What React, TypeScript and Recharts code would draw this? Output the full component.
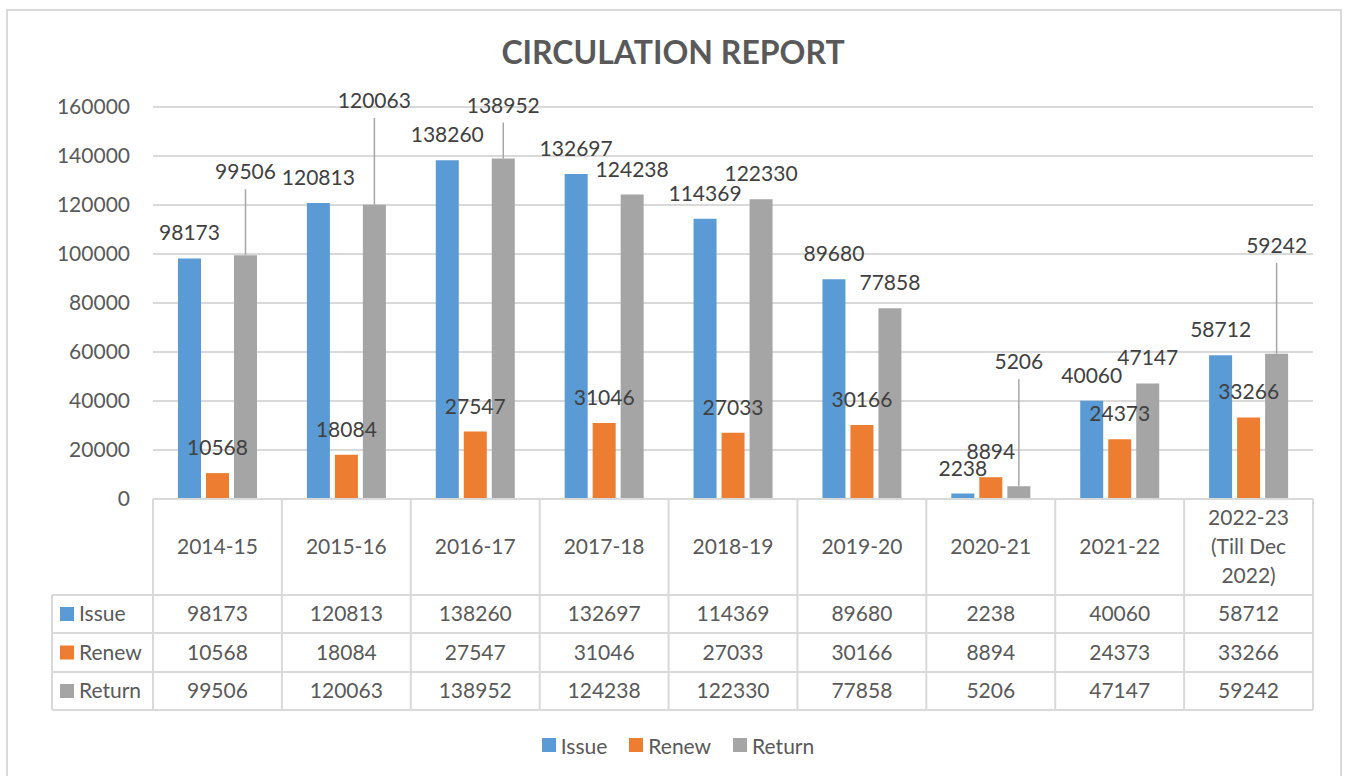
import React from 'react';
import { BarChart, Bar, XAxis, YAxis, CartesianGrid, Legend, LabelList } from 'recharts';

// values
const years = ['2014-15', '2015-16', '2016-17', '2017-18', '2018-19', '2019-20', '2020-21', '2021-22', '2022-23 (Till Dec 2022)'];
const issue = [98173, 120813, 138260, 132697, 114369, 89680, 2238, 40060, 58712];
const renew = [10568, 18084, 27547, 31046, 27033, 30166, 8894, 24373, 33266];
const returned = [99506, 120063, 138952, 124238, 122330, 77858, 5206, 47147, 59242];
const yTicks = [0, 20000, 40000, 60000, 80000, 100000, 120000, 140000, 160000];

// layout (px)
const W = 1346;
const H = 776;
const PLOT_LEFT = 153;
const PLOT_RIGHT = 1313;
const PLOT_BOTTOM = 499;
const TABLE_ROWS = [499, 595, 633, 672, 710];
const KEY_LEFT = 52;
const LINE = '#D9D9D9';
const TEXT = '#595959';
const LABEL = '#404040';
const FONT = 21;

// extra lift for the Return labels that Excel pushed up with leader lines
const returnLift = [83, 104, 53, 0, 0, 0, 124, 0, 108];

const series = [
  { key: 'issue', name: 'Issue', color: '#5B9BD5', values: issue },
  { key: 'renew', name: 'Renew', color: '#ED7D31', values: renew },
  { key: 'returned', name: 'Return', color: '#A5A5A5', values: returned },
];

const data = years.map((year, i) => ({
  year,
  issue: issue[i],
  renew: renew[i],
  returned: returned[i],
}));

function wrap(label: string, max = 9) {
  const lines: string[] = [];
  let cur = '';
  label.split(' ').forEach((w) => {
    if (cur && (cur + ' ' + w).length > max) {
      lines.push(cur);
      cur = w;
    } else {
      cur = cur ? cur + ' ' + w : w;
    }
  });
  if (cur) lines.push(cur);
  return lines;
}

// data table drawn under each category through the x axis ticks
function TableTick(props: any) {
  const { x, payload, index } = props;
  const colW = (PLOT_RIGHT - PLOT_LEFT) / years.length;
  const left = x - colW / 2;
  const right = x + colW / 2;
  const lines = wrap(payload.value);
  const headMid = (TABLE_ROWS[0] + TABLE_ROWS[1]) / 2;
  const lh = 29;
  return (
    <g>
      {TABLE_ROWS.map((ry) => (
        <line key={ry} x1={left} x2={right} y1={ry} y2={ry} stroke={LINE} strokeWidth={2} />
      ))}
      <line x1={left} x2={left} y1={TABLE_ROWS[0]} y2={TABLE_ROWS[4]} stroke={LINE} strokeWidth={2} />
      {index === years.length - 1 && (
        <line x1={right} x2={right} y1={TABLE_ROWS[0]} y2={TABLE_ROWS[4]} stroke={LINE} strokeWidth={2} />
      )}
      {lines.map((t, i) => (
        <text
          key={i}
          x={x}
          y={headMid + (i - (lines.length - 1) / 2) * lh + 7}
          textAnchor="middle"
          fill={TEXT}
          fontSize={FONT}
        >
          {t}
        </text>
      ))}
      {series.map((s, r) => (
        <text
          key={s.key}
          x={x}
          y={(TABLE_ROWS[r + 1] + TABLE_ROWS[r + 2]) / 2 + 7}
          textAnchor="middle"
          fill={TEXT}
          fontSize={FONT}
        >
          {s.values[index]}
        </text>
      ))}
      {index === 0 && (
        <g>
          {TABLE_ROWS.slice(1).map((ry) => (
            <line key={ry} x1={KEY_LEFT} x2={left} y1={ry} y2={ry} stroke={LINE} strokeWidth={2} />
          ))}
          <line x1={KEY_LEFT} x2={KEY_LEFT} y1={TABLE_ROWS[1]} y2={TABLE_ROWS[4]} stroke={LINE} strokeWidth={2} />
          {series.map((s, r) => {
            const mid = (TABLE_ROWS[r + 1] + TABLE_ROWS[r + 2]) / 2;
            return (
              <g key={s.key}>
                <rect x={KEY_LEFT + 8} y={mid - 7} width={14} height={14} fill={s.color} />
                <text x={KEY_LEFT + 27} y={mid + 7} fill={TEXT} fontSize={FONT}>
                  {s.name}
                </text>
              </g>
            );
          })}
        </g>
      )}
    </g>
  );
}

function makeLabel(lift?: number[]) {
  return (props: any) => {
    const { x, y, width, value, index } = props;
    const cx = x + width / 2;
    const up = lift && lift[index] ? lift[index] : 25;
    const cy = y - up;
    return (
      <g>
        {lift && lift[index] ? (
          <line x1={cx} x2={cx} y1={cy + 17} y2={y} stroke="#A6A6A6" strokeWidth={1.5} />
        ) : null}
        <text x={cx} y={cy + 7} textAnchor="middle" fill={LABEL} fontSize={FONT}>
          {value}
        </text>
      </g>
    );
  };
}

function LegendBox() {
  return (
    <div style={{ display: 'flex', justifyContent: 'center', height: 24, alignItems: 'center', paddingLeft: 10 }}>
      {series.map((s) => (
        <div key={s.key} style={{ display: 'flex', alignItems: 'center', margin: '0 11px' }}>
          <span style={{ width: 14, height: 14, background: s.color, display: 'inline-block', marginRight: 5 }} />
          <span style={{ color: TEXT, fontSize: FONT }}>{s.name}</span>
        </div>
      ))}
    </div>
  );
}

export default function App() {
  return (
    <div
      style={{
        position: 'absolute',
        left: 0,
        top: 0,
        width: W,
        height: H,
        background: '#fff',
        fontFamily: 'Lato, "Open Sans", sans-serif',
        overflow: 'hidden',
      }}
    >
      <div
        style={{
          position: 'absolute',
          left: 6,
          top: 9,
          width: 1336,
          height: 800,
          border: `2px solid ${LINE}`,
          boxSizing: 'border-box',
        }}
      />
      <div
        style={{
          position: 'absolute',
          left: 0,
          width: W,
          top: 32,
          textAlign: 'center',
          fontSize: 32,
          fontWeight: 700,
          color: TEXT,
          lineHeight: '40px',
        }}
      >
        CIRCULATION REPORT
      </div>
      <div style={{ position: 'absolute', left: 0, top: 0 }}>
        <BarChart
          width={W}
          height={H}
          data={data}
          margin={{ top: 107, right: W - PLOT_RIGHT, bottom: 19, left: PLOT_LEFT - 100 }}
          barSize={23}
          barGap={5}
        >
          <CartesianGrid vertical={false} stroke={LINE} strokeWidth={2} />
          <XAxis
            dataKey="year"
            height={H - 19 - 24 - PLOT_BOTTOM}
            axisLine={false}
            tickLine={false}
            interval={0}
            tick={<TableTick />}
          />
          <YAxis
            width={100}
            domain={[0, 160000]}
            ticks={yTicks}
            axisLine={false}
            tickLine={false}
            tickSize={6}
            tickMargin={17}
            tick={{ fill: TEXT, fontSize: FONT }}
          />
          <Legend verticalAlign="bottom" wrapperStyle={{ left: 0, width: W }} content={<LegendBox />} />
          <Bar dataKey="issue" name="Issue" fill="#5B9BD5" isAnimationActive={false}>
            <LabelList dataKey="issue" content={makeLabel()} />
          </Bar>
          <Bar dataKey="renew" name="Renew" fill="#ED7D31" isAnimationActive={false}>
            <LabelList dataKey="renew" content={makeLabel()} />
          </Bar>
          <Bar dataKey="returned" name="Return" fill="#A5A5A5" isAnimationActive={false}>
            <LabelList dataKey="returned" content={makeLabel(returnLift)} />
          </Bar>
        </BarChart>
      </div>
    </div>
  );
}
